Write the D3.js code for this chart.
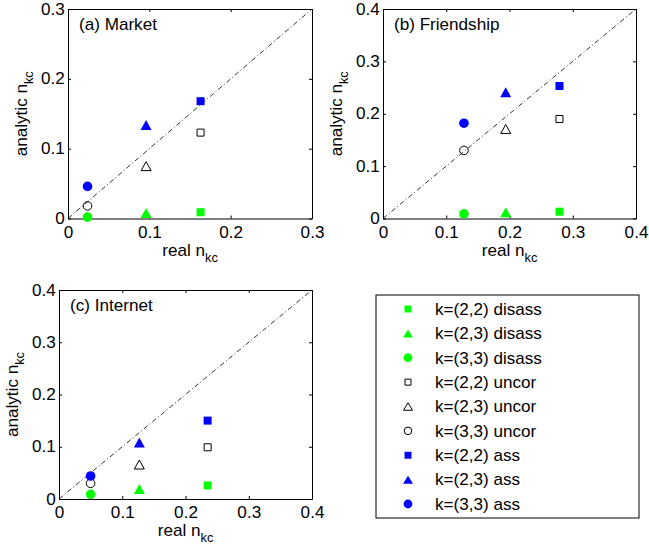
<!DOCTYPE html>
<html><head><meta charset="utf-8">
<script src="https://cdn.jsdelivr.net/npm/d3@7"></script>
<style>
html,body{margin:0;padding:0;background:#fff;}
svg{display:block;}
text{font-family:"Liberation Sans",Arial,Helvetica,sans-serif;fill:#000;}
</style></head>
<body>
<script>
// ---- data ----
const categories = ["k=(2,2)", "k=(2,3)", "k=(3,3)"];
const seriesNames = ["disass", "uncor", "ass"];
const panelTitles = ["(a) Market", "(b) Friendship", "(c) Internet"];
const tickLabelsA = [0, 0.1, 0.2, 0.3];
const tickLabelsBC = [0, 0.1, 0.2, 0.3, 0.4];

const marketReal = [0.163, 0.096, 0.024];
const marketDisass = [0.009, 0.008, 0.002];
const marketUncor = [0.123, 0.075, 0.018];
const marketAss = [0.168, 0.134, 0.046];

const friendshipReal = [0.279, 0.194, 0.128];
const friendshipDisass = [0.013, 0.012, 0.009];
const friendshipUncor = [0.190, 0.171, 0.130];
const friendshipAss = [0.253, 0.241, 0.182];

const internetReal = [0.235, 0.127, 0.050];
const internetDisass = [0.026, 0.019, 0.009];
const internetUncor = [0.099, 0.066, 0.030];
const internetAss = [0.150, 0.108, 0.044];

// ---- layout ----
const W = 649, H = 547;
const GREEN = "#00ff00", BLUE = "#0000ff";
const FS = 16, SX = 1.07;
const svg = d3.select("body").append("svg").attr("width", W).attr("height", H);

const panels = [
  {title: panelTitles[0], real: marketReal, series: [marketDisass, marketUncor, marketAss], max: 0.3, ticks: tickLabelsA, box: [68, 312, 9, 218.5]},
  {title: panelTitles[1], real: friendshipReal, series: [friendshipDisass, friendshipUncor, friendshipAss], max: 0.4, ticks: tickLabelsBC, box: [383, 636, 9, 218.5]},
  {title: panelTitles[2], real: internetReal, series: [internetDisass, internetUncor, internetAss], max: 0.4, ticks: tickLabelsBC, box: [59, 312, 290, 499]}
];

// marker shapes: 0 square, 1 triangle, 2 circle
function markerPath(shape, s) {
  if (shape === 0) { const h = s.sq / 2; return `M${-h},${-h}H${h}V${h}H${-h}Z`; }
  if (shape === 1) { const w = s.tw / 2, h = s.th / 2; return `M0,${-h}L${w},${h}L${-w},${h}Z`; }
  const r = s.r; return `M${r},0A${r},${r} 0 1,1 ${-r},0A${r},${r} 0 1,1 ${r},0Z`;
}
function styleFor(seriesIdx) {
  if (seriesIdx === 0) return {fill: GREEN, stroke: "none"};
  if (seriesIdx === 2) return {fill: BLUE, stroke: "none"};
  return {fill: "none", stroke: "#000"};
}
const plotFilled = {sq: 8, tw: 11, th: 10, r: 4.8};
const plotOpen = {sq: 7, tw: 10, th: 9, r: 4.3};

const fmt = d => d === 0 ? "0" : d3.format(".1f")(d);

panels.forEach(p => {
  const [L, R, T, B] = p.box;
  const x = d3.scaleLinear().domain([0, p.max]).range([L, R]);
  const y = d3.scaleLinear().domain([0, p.max]).range([B, T]);
  const g = svg.append("g");

  // diagonal
  g.append("line")
    .attr("x1", x(0)).attr("y1", y(0)).attr("x2", x(p.max)).attr("y2", y(p.max))
    .attr("stroke", "#000").attr("stroke-width", 0.8).attr("stroke-dasharray", "5,2.5,1,2.5");

  // axes
  const ax = [
    {a: d3.axisBottom(x).tickValues(p.ticks).tickFormat(fmt).tickPadding(8), t: `translate(0,${B})`},
    {a: d3.axisTop(x).tickValues(p.ticks).tickFormat(""), t: `translate(0,${T})`},
    {a: d3.axisLeft(y).tickValues(p.ticks).tickFormat(fmt).tickPadding(3), t: `translate(${L},0)`},
    {a: d3.axisRight(y).tickValues(p.ticks).tickFormat(""), t: `translate(${R},0)`}
  ];
  ax.forEach(o => {
    const ag = g.append("g").attr("transform", o.t)
      .call(o.a.tickSizeInner(-3).tickSizeOuter(0));
    ag.select(".domain").attr("stroke", "#000").attr("stroke-width", 1);
    ag.selectAll(".tick line").attr("stroke", "#000").attr("stroke-width", 1);
    ag.selectAll("text").attr("font-size", FS).attr("fill", "#000")
      .attr("font-family", '"Liberation Sans",Arial,sans-serif')
      .attr("transform", `scale(${SX},1)`);
  });

  // title
  g.append("text").attr("transform", `translate(${L + 11},${T + 21}) scale(${SX},1)`)
    .attr("font-size", FS).text(p.title);

  // x label
  const xl = g.append("text").attr("transform", `translate(${(L + R) / 2},${B + 37}) scale(${SX},1)`)
    .attr("font-size", FS).attr("text-anchor", "middle");
  xl.append("tspan").text("real n");
  xl.append("tspan").attr("dy", 6).attr("font-size", 12).text("kc");

  // y label
  const yl = g.append("text").attr("transform", `translate(${L - 41},${(T + B) / 2}) rotate(-90) scale(${SX},1)`)
    .attr("font-size", FS).attr("text-anchor", "middle");
  yl.append("tspan").text("analytic n");
  yl.append("tspan").attr("dy", 6).attr("font-size", 12).text("kc");

  // points
  const pts = [];
  p.series.forEach((vals, si) => {
    vals.forEach((v, ci) => pts.push({x: p.real[ci], y: v, shape: ci, si}));
  });
  g.selectAll("path.pt").data(pts).enter().append("path")
    .attr("class", "pt")
    .attr("transform", d => `translate(${x(d.x)},${y(d.y)})`)
    .attr("d", d => markerPath(d.shape, d.si === 1 ? plotOpen : plotFilled))
    .attr("fill", d => styleFor(d.si).fill)
    .attr("stroke", d => styleFor(d.si).stroke)
    .attr("stroke-width", 1);
});

// legend
const legL = 376, legR = 639, legT = 295, legB = 518;
svg.append("rect").attr("x", legL).attr("y", legT).attr("width", legR - legL).attr("height", legB - legT)
  .attr("fill", "#fff").attr("stroke", "#000").attr("stroke-width", 1);
const legItems = [];
seriesNames.forEach((sn, si) => categories.forEach((c, ci) => legItems.push({label: `${c} ${sn}`, si, shape: ci})));
const legFilled = {sq: 7, tw: 10, th: 8, r: 4.4};
const legOpen = {sq: 6, tw: 9, th: 7.5, r: 3.8};
const rowY = d3.scalePoint().domain(d3.range(legItems.length)).range([309, 504]);
const lg = svg.append("g");
legItems.forEach((it, i) => {
  const st = styleFor(it.si);
  lg.append("path").attr("transform", `translate(408,${rowY(i)})`)
    .attr("d", markerPath(it.shape, it.si === 1 ? legOpen : legFilled))
    .attr("fill", st.fill).attr("stroke", st.stroke).attr("stroke-width", 1);
  lg.append("text").attr("transform", `translate(435,${rowY(i)}) scale(${SX},1)`)
    .attr("dy", "0.36em").attr("font-size", FS).text(it.label);
});
</script>
</body></html>
